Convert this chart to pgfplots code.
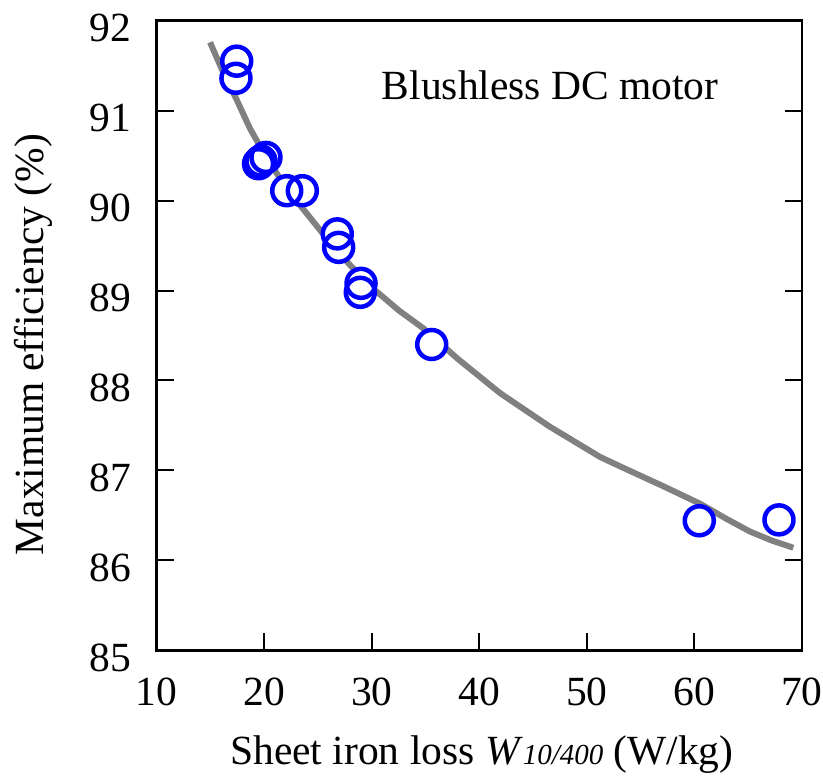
\documentclass[border=0pt]{standalone}
\usepackage{fontspec}
\setmainfont{Liberation Serif}
\usepackage{pgfplots}
\usepackage{pgfplotstable}
\pgfplotsset{compat=1.18}
\definecolor{curvegray}{RGB}{128,128,128}
\pgfplotstableread{
x y
17.44 91.55
17.37 91.36
19.47 90.41
19.70 90.44
20.16 90.48
22.09 90.11
23.54 90.11
26.79 89.63
26.92 89.48
29.00 89.08
28.93 88.98
35.57 88.40
60.45 86.44
67.86 86.45
}\measured
\pgfplotstableread{
x y
14.96 91.76
16.20 91.42
17.44 91.12
18.68 90.80
20.00 90.52
21.50 90.24
23.32 89.95
25.81 89.58
28.00 89.28
30.14 89.02
32.50 88.78
34.79 88.58
38.00 88.24
41.92 87.86
46.50 87.49
51.22 87.15
53.36 87.03
57.00 86.83
60.52 86.63
63.00 86.46
65.17 86.32
67.20 86.22
69.19 86.14
}\fitcurve
\begin{document}
\begin{tikzpicture}[font=\fontsize{41.5}{48}\selectfont]
\begin{axis}[
  name=ax, at={(0,0)}, anchor=south west,
  scale only axis, width=645.3pt, height=629.6pt,
  xmin=10, xmax=70, ymin=85, ymax=92,
  xtick={10,20,...,70}, ytick={85,86,...,92},
  tick align=inside, xtick pos=bottom, ytick pos=both,
  major tick length=17pt,
  axis line style={line width=2.6pt},
  major tick style={line width=2pt, black},
  /pgf/number format/assume math mode=true,
  xticklabel style={anchor=base, yshift=-55.4pt, inner sep=0pt},
  yticklabel style={anchor=base east, xshift=-25pt, yshift=-20.8pt, inner sep=0pt},
  xlabel={Sheet iron loss \textit{W}{\fontsize{29}{30}\selectfont\textit{10/400}} (W/kg)},
  ylabel={Maximum efficiency (\%)},
  xlabel style={at={(axis description cs:0.504,-0.1806)}, anchor=base, inner sep=0pt},
  ylabel style={at={(axis description cs:-0.1762,0.4854)}, anchor=base, inner sep=0pt},
  clip=false,
]
\addplot[color=curvegray, line width=6pt, line join=round] table[x=x,y=y] {\fitcurve};
\addplot[only marks, mark=*, mark size=14.5pt, mark options={draw=none, fill=white}] table[x=x,y=y] {\measured};
\addplot[only marks, mark=o, mark size=14.5pt, mark options={draw=blue, line width=4.5pt}] table[x=x,y=y] {\measured};
\node[anchor=base west, inner sep=0pt] at (axis cs:30.92,91.124) {Blushless DC motor};
\end{axis}
\pgfresetboundingbox
\path[use as bounding box] (-156.7pt,-128.7pt) rectangle (666.3pt,650.3pt);
\end{tikzpicture}
\end{document}
